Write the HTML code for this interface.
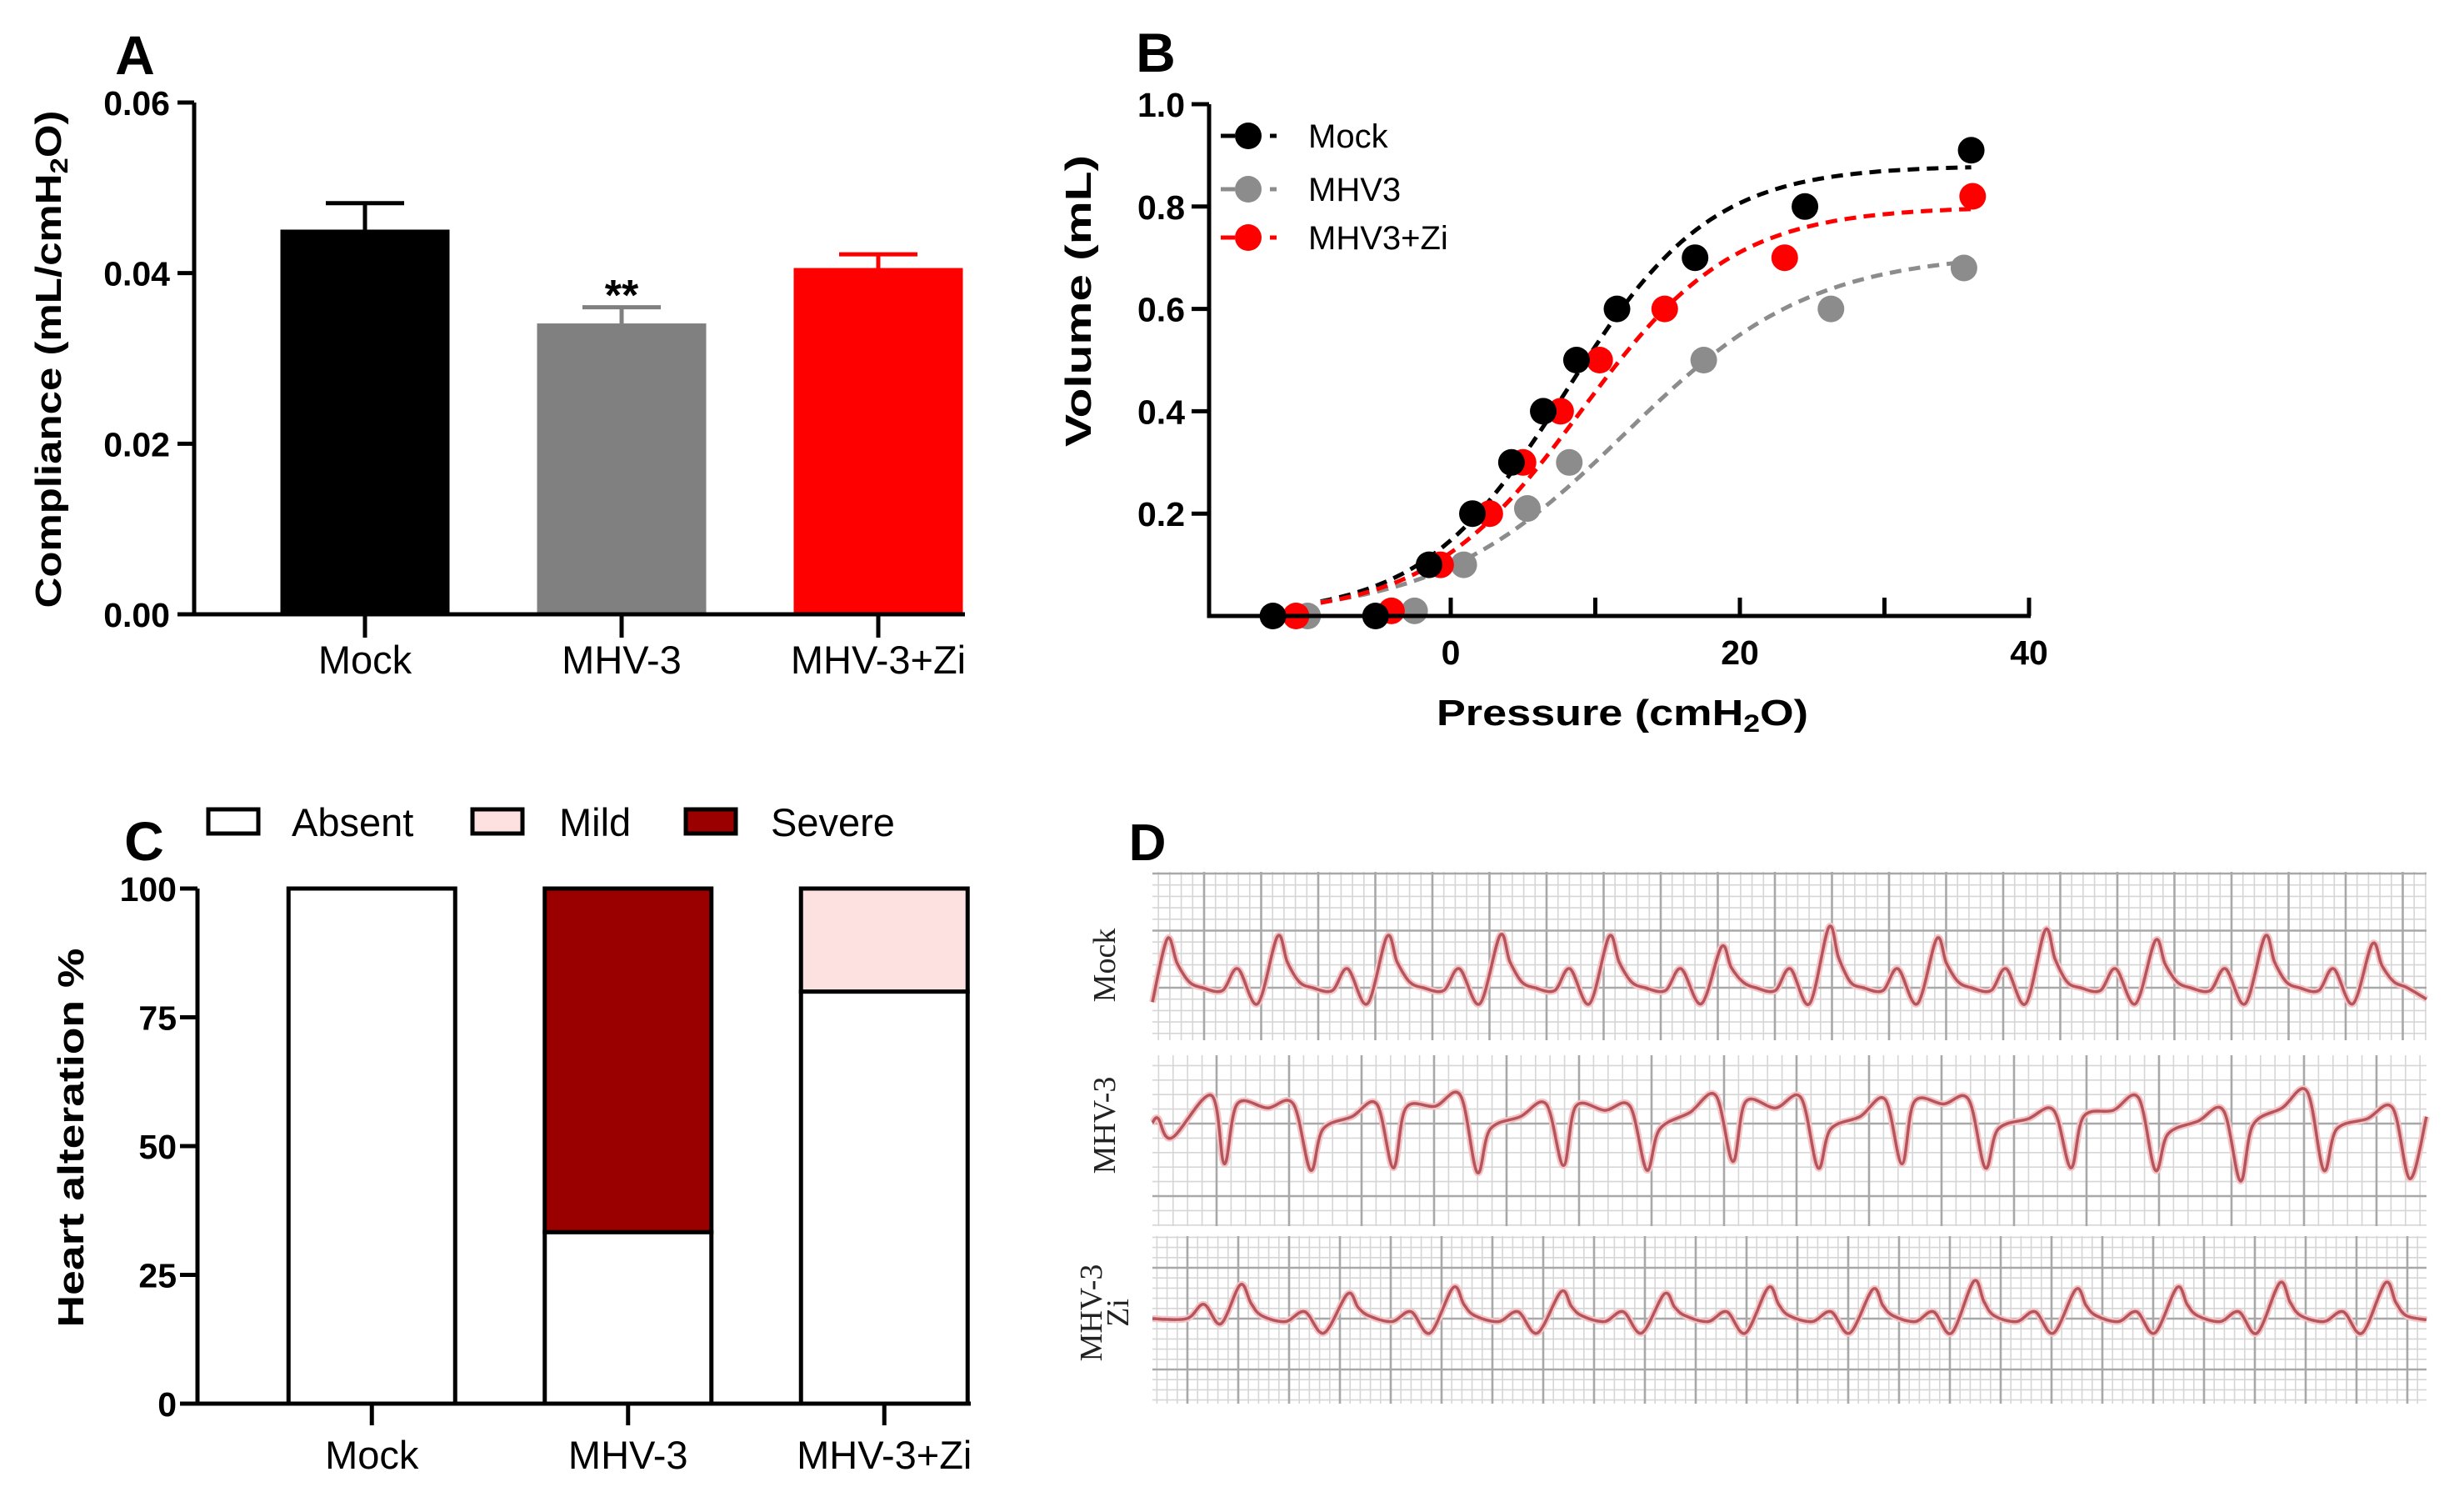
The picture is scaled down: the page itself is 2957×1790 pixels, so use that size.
<!DOCTYPE html>
<html><head><meta charset="utf-8">
<style>
html,body{margin:0;padding:0;background:#fff;}
svg{display:block;}
text{font-family:"Liberation Sans",Arial,sans-serif;}
.serif{font-family:"Liberation Serif","Times New Roman",serif;}
</style></head>
<body>
<svg id="fig" width="2957" height="1790" viewBox="0 0 2957 1790" xmlns="http://www.w3.org/2000/svg">
<rect width="2957" height="1790" fill="#fff"/>
<g id="pA"></g>
<g id="pB"></g>
<g id="pC"></g>
<g id="pD"></g>
</svg>
<script>
// ---------- Panel A data ----------
const catsA = ['Mock','MHV-3','MHV-3+Zi'];
const meanA = [0.0451, 0.0341, 0.0406];
const errA = [0.0031, 0.0019, 0.0016];
const colorsA = ['#000000','#808080','#ff0000'];
const ticksA = [0, 0.02, 0.04, 0.06];
const tickLabelsA = ['0.00','0.02','0.04','0.06'];

// ---------- Panel B data ----------
const seriesB = ['Mock','MHV3','MHV3+Zi'];
const colorsB = ['#000000','#8c8c8c','#ff0000'];
const pMock = [-12.3,-5.2,-1.5,1.5,4.2,6.4,8.7,11.5,16.9,24.5,36.0];
const vMock = [0,0,0.1,0.2,0.3,0.4,0.5,0.6,0.7,0.8,0.91];
const pMHV = [-9.9,-2.5,0.9,5.3,8.2,17.5,26.3,35.5];
const vMHV = [0,0.01,0.1,0.21,0.3,0.5,0.6,0.68];
const pZi = [-10.7,-4.1,-0.7,2.7,5.0,7.6,10.3,14.8,23.1,36.1];
const vZi = [0,0.01,0.1,0.2,0.3,0.4,0.5,0.6,0.7,0.82];
const fitTop = [0.88, 0.71, 0.80];
const fitV50 = [8, 12, 9];
const fitSlope = [5, 6.5, 5.3];
const xTicksB = [0,10,20,30,40];
const xTickLabelsB = ['0','','20','','40'];
const yTicksB = [0.2,0.4,0.6,0.8,1.0];
const yTickLabelsB = ['0.2','0.4','0.6','0.8','1.0'];

// ---------- Panel C data ----------
const catsC = ['Mock','MHV-3','MHV-3+Zi'];
const absentC = [100, 33.3, 80];
const mildC = [0, 0, 20];
const severeC = [0, 66.7, 0];
const ticksC = [0,25,50,75,100];

// ---------- Panel D data (time in grid boxes, voltage in boxes) ----------
const mockPeakT = [0.26,2.19,4.11,6.09,8.0,9.97,11.85,13.74,15.64,17.57,19.49,21.37];
const mockPeakV = [0.85,0.89,0.89,0.91,0.89,0.71,1.05,0.85,1.0,0.82,0.89,0.76];
const mhvSpikeT = [1.26,2.77,4.22,5.69,7.20,8.66,10.17,11.66,13.13,14.59,16.09,17.57,19.06,20.52,22.03];
const mhvSpikeV = [-0.67,-0.78,-0.74,-0.82,-0.70,-0.78,-0.63,-0.74,-0.67,-0.74,-0.74,-0.78,-0.97,-0.78,-0.93];
const mhvAfterV = [0.37,-0.07,0.30,-0.07,0.33,-0.07,0.41,-0.07,0.41,-0.07,0.15,-0.15,0.0,-0.07,0.15];
const mhvMidV = [0.30,0.15,0.33,0.15,0.26,0.22,0.30,0.15,0.37,0.11,0.26,0.07,0.30,0.11];
const mhvPreV = [0.37,0.37,0.52,0.37,0.33,0.52,0.48,0.45,0.45,0.26,0.48,0.26,0.59,0.30];
const ziPeakT = [1.54,3.42,5.27,7.16,8.97,10.79,12.62,14.39,16.18,17.95,19.75,21.6];
const ziPeakV = [0.59,0.43,0.54,0.47,0.43,0.54,0.51,0.65,0.51,0.54,0.62,0.62];

const NS='http://www.w3.org/2000/svg';
function mk(parent, tag, attrs, txt){
  const e=document.createElementNS(NS,tag);
  for(const k in attrs) e.setAttribute(k,attrs[k]);
  if(txt!==undefined) e.textContent=txt;
  parent.appendChild(e); return e;
}

// ================= Panel A =================
(function(){
  const g=document.getElementById('pA');
  const yA=v=>737 - v/0.06*614;
  const xA=i=>284+308*(i+0.5);
  const bw=203;
  let t=mk(g,'text',{x:162,y:89,'font-size':66,'font-weight':'bold','text-anchor':'middle'},'A');
   
  meanA.forEach((v,i)=>{
    const c=colorsA[i];
    let e=mk(g,'line',{x1:xA(i),x2:xA(i),y1:yA(v),y2:yA(v+errA[i]),stroke:c,'stroke-width':5});
     
    e=mk(g,'line',{x1:xA(i)-47,x2:xA(i)+47,y1:yA(v+errA[i]),y2:yA(v+errA[i]),stroke:c,'stroke-width':5});
     
    const r=mk(g,'rect',{x:xA(i)-bw/2,y:yA(v),width:bw,height:yA(0)-yA(v),fill:c});
     
    const tk=mk(g,'line',{x1:xA(i),x2:xA(i),y1:737,y2:765,stroke:'#000','stroke-width':5});
     
    const lb=mk(g,'text',{x:xA(i),y:808,'font-size':47,'text-anchor':'middle'},catsA[i]);
     
  });
  const st=mk(g,'text',{x:xA(1),y:372,'font-size':52,'font-weight':'bold','text-anchor':'middle'},'**');
   
  let ax=mk(g,'path',{d:'M233 '+yA(0.06)+' V737 H1158',fill:'none',stroke:'#000','stroke-width':5});
   
  ticksA.forEach((v,i)=>{
    const l=mk(g,'line',{x1:213,x2:233,y1:yA(v),y2:yA(v),stroke:'#000','stroke-width':5});
     
    const tt=mk(g,'text',{x:204,y:yA(v)+15,'font-size':41,'font-weight':'bold','text-anchor':'end'},tickLabelsA[i]);
     
  });
  const yt=mk(g,'text',{x:0,y:0,'font-size':44,'font-weight':'bold','text-anchor':'middle',transform:'translate(73,431) rotate(-90)',textLength:597,lengthAdjust:'spacingAndGlyphs'});
   
  yt.innerHTML='Compliance (mL/cmH<tspan font-size="30" dy="8">2</tspan><tspan dy="-8">O)</tspan>';
})();

// ================= Panel B =================
(function(){
  const g=document.getElementById('pB');
  const xB=p=>1741 + p*17.35;
  const yB=v=>739 - v*614;
  let t=mk(g,'text',{x:1387,y:86,'font-size':66,'font-weight':'bold','text-anchor':'middle'},'B');
   
  const ps=[pMock,pMHV,pZi], vs=[vMock,vMHV,vZi];
  [0,1,2].forEach(s=>{
    let d='';
    for(let p=-9;p<=36.01;p+=0.5){
      const v=fitTop[s]/(1+Math.exp((fitV50[s]-p)/fitSlope[s]));
      d+=(d?'L':'M')+xB(p).toFixed(1)+' '+yB(v).toFixed(1);
    }
    const e=mk(g,'path',{d:d,fill:'none',stroke:colorsB[s],'stroke-width':5,'stroke-dasharray':'14 9'});
     
  });
  [1,2,0].forEach(s=>{
    ps[s].forEach((p,i)=>{
      const c=mk(g,'circle',{cx:xB(p),cy:yB(vs[s][i]),r:16,fill:colorsB[s]});
       
    });
  });
  let ax=mk(g,'path',{d:'M1451 '+yB(1.0)+' V739 H2437',fill:'none',stroke:'#000','stroke-width':5});
   
  yTicksB.forEach((v,i)=>{
    const l=mk(g,'line',{x1:1430,x2:1451,y1:yB(v),y2:yB(v),stroke:'#000','stroke-width':5});
     
    const tt=mk(g,'text',{x:1422,y:yB(v)+15,'font-size':41,'font-weight':'bold','text-anchor':'end'},yTickLabelsB[i]);
     
  });
  xTicksB.forEach((p,i)=>{
    const l=mk(g,'line',{x1:xB(p),x2:xB(p),y1:739,y2:717,stroke:'#000','stroke-width':5});
     
    if(xTickLabelsB[i]){
      const tt=mk(g,'text',{x:xB(p),y:797,'font-size':41,'font-weight':'bold','text-anchor':'middle'},xTickLabelsB[i]);
       
    }
  });
  const xt=mk(g,'text',{x:1947,y:870,'font-size':44,'font-weight':'bold','text-anchor':'middle',textLength:446,lengthAdjust:'spacingAndGlyphs'});
   
  xt.innerHTML='Pressure (cmH<tspan font-size="30" dy="8">2</tspan><tspan dy="-8">O)</tspan>';
  const yt=mk(g,'text',{x:0,y:0,'font-size':44,'font-weight':'bold','text-anchor':'middle',transform:'translate(1309,361) rotate(-90)',textLength:350,lengthAdjust:'spacingAndGlyphs'},'Volume (mL)');
   
  const ly=[163,227,285];
  seriesB.forEach((s,i)=>{
    const lg=mk(g,'g',{});
     
    mk(lg,'line',{x1:1465,x2:1482,y1:ly[i],y2:ly[i],stroke:colorsB[i],'stroke-width':5});
    mk(lg,'line',{x1:1524,x2:1532,y1:ly[i],y2:ly[i],stroke:colorsB[i],'stroke-width':5});
    mk(lg,'circle',{cx:1498,cy:ly[i],r:16,fill:colorsB[i]});
    mk(lg,'text',{x:1570,y:ly[i]+14,'font-size':40},s);
  });
})();

// ================= Panel C =================
(function(){
  const g=document.getElementById('pC');
  const yC=v=>1684 - v/100*618;
  const xC=i=>292.5+307.5*(i+0.5);
  const bw=200;
  let t=mk(g,'text',{x:173,y:1032,'font-size':66,'font-weight':'bold','text-anchor':'middle'},'C');
   
  const fills={absent:'#ffffff',mild:'#fde0e0',severe:'#9b0000'};
  catsC.forEach((c,i)=>{
    let base=0;
    [['absent',absentC[i]],['severe',severeC[i]],['mild',mildC[i]]].forEach(([k,v])=>{
      if(v<=0) return;
      const r=mk(g,'rect',{x:xC(i)-bw/2,y:yC(base+v),width:bw,height:yC(base)-yC(base+v),fill:fills[k],stroke:'#000','stroke-width':5});
       
      base+=v;
    });
    const tk=mk(g,'line',{x1:xC(i),x2:xC(i),y1:1684,y2:1710,stroke:'#000','stroke-width':5});
     
    const lb=mk(g,'text',{x:xC(i),y:1762,'font-size':47,'text-anchor':'middle'},c);
     
  });
  let ax=mk(g,'path',{d:'M237 '+yC(100)+' V1684 H1165',fill:'none',stroke:'#000','stroke-width':5});
   
  ticksC.forEach(v=>{
    const l=mk(g,'line',{x1:216,x2:237,y1:yC(v),y2:yC(v),stroke:'#000','stroke-width':5});
     
    const tt=mk(g,'text',{x:212,y:yC(v)+15,'font-size':41,'font-weight':'bold','text-anchor':'end'},String(v));
     
  });
  const yt=mk(g,'text',{x:0,y:0,'font-size':44,'font-weight':'bold','text-anchor':'middle',transform:'translate(100,1365) rotate(-90)',textLength:455,lengthAdjust:'spacingAndGlyphs'},'Heart alteration %');
   
  const leg=[['Absent','#ffffff',250,350],['Mild','#fde0e0',567,671],['Severe','#9b0000',823,925]];
  leg.forEach(([n,f,bx,tx])=>{
    const lg=mk(g,'g',{});
     
    mk(lg,'rect',{x:bx,y:971,width:60,height:29,fill:f,stroke:'#000','stroke-width':5});
    mk(lg,'text',{x:tx,y:1003,'font-size':47},n);
  });
})();

// ================= Panel D =================
(function(){
  const g=document.getElementById('pD');
  let t=mk(g,'text',{x:1377,y:1032,'font-size':62,'font-weight':'bold','text-anchor':'middle'},'D');
   
  const X0=1383, X1=2912, BOX=68.5;
  const xD=tt=>X0+tt*BOX;
  const strips=[
    {y0:1046,y1:1248,maj:68.5,ax:1376.5,ay:1185,base:1185,name:'mock'},
    {y0:1266,y1:1471,maj:87,ax:1460,ay:1348,base:1350,name:'mhv-3'},
    {y0:1483,y1:1684,maj:61,ax:1425,ay:1582,base:1582,name:'mhv-3-zi'}
  ];
  strips.forEach(s=>{
    const sg=mk(g,'g',{});
     
    const mn=s.maj/5;
    let dmin='',dmaj='';
    let k0=Math.ceil((X0-s.ax)/mn);
    for(let k=k0;s.ax+k*mn<=X1;k++){
      const x=(s.ax+k*mn).toFixed(1);
      if(((k%5)+5)%5===0) dmaj+='M'+x+' '+s.y0+'V'+s.y1; else dmin+='M'+x+' '+s.y0+'V'+s.y1;
    }
    k0=Math.ceil((s.y0-s.ay)/mn);
    for(let k=k0;s.ay+k*mn<=s.y1;k++){
      const y=(s.ay+k*mn).toFixed(1);
      if(((k%5)+5)%5===0) dmaj+='M'+X0+' '+y+'H'+X1; else dmin+='M'+X0+' '+y+'H'+X1;
    }
    mk(sg,'path',{d:dmin,stroke:'#d6d6d6','stroke-width':1.6,fill:'none'});
    mk(sg,'path',{d:dmaj,stroke:'#a8a8a8','stroke-width':2.6,fill:'none'});
  });
  function crPath(pts){
    pts=pts.filter(p=>p[0]>=X0-1&&p[0]<=X1+1);
    let d='M'+pts[0][0].toFixed(1)+' '+pts[0][1].toFixed(1);
    for(let i=0;i<pts.length-1;i++){
      const p0=pts[Math.max(0,i-1)],p1=pts[i],p2=pts[i+1],p3=pts[Math.min(pts.length-1,i+2)];
      const c1=[p1[0]+(p2[0]-p0[0])/6,p1[1]+(p2[1]-p0[1])/6];
      const c2=[p2[0]-(p3[0]-p1[0])/6,p2[1]-(p3[1]-p1[1])/6];
      d+='C'+c1[0].toFixed(1)+' '+c1[1].toFixed(1)+' '+c2[0].toFixed(1)+' '+c2[1].toFixed(1)+' '+p2[0].toFixed(1)+' '+p2[1].toFixed(1);
    }
    return d;
  }
  function drawTrace(pts,name){
    const tr=mk(g,'g',{});
     
    const d=crPath(pts);
    mk(tr,'path',{d:d,fill:'none',stroke:'#f4c4c6','stroke-width':8,'stroke-linejoin':'round'});
    mk(tr,'path',{d:d,fill:'none',stroke:'#b5545b','stroke-width':3.5,'stroke-linejoin':'round'});
  }
  const VB=69;
  const TEND=(X1-X0)/BOX;
  // Mock
  (function(){
    const b=strips[0].base, yv=v=>b-v*VB;
    const pts=[[xD(0),yv(-0.25)]];
    mockPeakT.forEach((tp,i)=>{
      const P=(i<mockPeakT.length-1?mockPeakT[i+1]:tp+1.92)-tp;
      pts.push([xD(tp),yv(mockPeakV[i])]);
      [[0.09,0.5*mockPeakV[i]],[0.2,0.1],[0.32,0],[0.5,-0.05],[0.64,0.33],[0.82,-0.28]].forEach(([f,v])=>{ if(tp+f*P<TEND) pts.push([xD(tp+f*P),yv(v)]); });
    });
    pts.push([xD(TEND),yv(-0.2)]);
    drawTrace(pts,'mock');
  })();
  // MHV-3
  (function(){
    const b=strips[1].base, yv=v=>b-v*VB;
    const pts=[[xD(0),yv(0.04)],[xD(0.1),yv(0.12)],[xD(0.34),yv(-0.22)],[xD(1.03),yv(0.52)]];
    mhvSpikeT.forEach((ts,i)=>{
      pts.push([xD(ts),yv(mhvSpikeV[i])]);
      if(i<mhvSpikeT.length-1){
        const G=mhvSpikeT[i+1]-ts;
        pts.push([xD(ts+0.15*G),yv(mhvAfterV[i])]);
        pts.push([xD(ts+0.5*G),yv(mhvMidV[i])]);
        pts.push([xD(ts+0.8*G),yv(mhvPreV[i])]);
      } else {
        pts.push([xD(TEND),yv(mhvAfterV[i])]);
      }
    });
    drawTrace(pts,'mhv-3');
  })();
  // Zi
  (function(){
    const b=strips[2].base, yv=v=>b-v*VB;
    const pts=[[xD(0),yv(0)],[xD(0.6),yv(0)],[xD(0.9),yv(0.25)],[xD(1.2),yv(-0.09)]];
    ziPeakT.forEach((tp,i)=>{
      const P=(i<ziPeakT.length-1?ziPeakT[i+1]:tp+1.85)-tp;
      pts.push([xD(tp),yv(ziPeakV[i])]);
      [[0.1,0.45*ziPeakV[i]],[0.2,0.05],[0.42,-0.05],[0.6,0.12],[0.78,-0.25]].forEach(([f,v])=>{ if(tp+f*P<TEND) pts.push([xD(tp+f*P),yv(v)]); });
    });
    pts.push([xD(TEND),yv(-0.02)]);
    drawTrace(pts,'mhv-3-zi');
  })();
  const labs=[['Mock',1325,1158],['MHV-3',1325,1350]];
  labs.forEach(([s,x,y])=>{
    const e=mk(g,'text',{x:0,y:0,'font-size':38,'text-anchor':'middle',fill:'#222',class:'serif',transform:'translate('+(x+13)+','+y+') rotate(-90)'},s);
     
  });
  const e1=mk(g,'text',{x:0,y:0,'font-size':38,'text-anchor':'middle',fill:'#222',class:'serif',transform:'translate(1322,1575) rotate(-90)'},'MHV-3');
   
  const e2=mk(g,'text',{x:0,y:0,'font-size':38,'text-anchor':'middle',fill:'#222',class:'serif',transform:'translate(1354,1575) rotate(-90)'},'Zi');
   
})();
</script>
</body></html>
